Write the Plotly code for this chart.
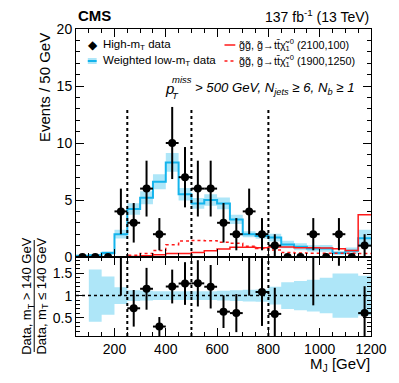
import numpy as np
import plotly.graph_objects as go

# M_J bins, 50 GeV wide from 50 to 1200 GeV
bin_edges = np.arange(50, 1250, 50)
bin_centers = [75, 125, 175, 225, 275, 325, 375, 425, 475, 525, 575, 625,
               675, 725, 775, 825, 875, 925, 975, 1025, 1075, 1125, 1175]

# High-mT data (event counts)
data_high_mt = [0, 0, 0, 4, 3, 6, 2, 10, 7, 6, 6, 3,
                2, 4, 2, 1, 0, 0, 2, 0, 2, 0, 1]

# Weighted low-mT prediction
pred_low_mt = [0.1, 0.15, 0.35, 2.0, 4.2, 5.2, 6.6, 8.3, 5.5, 4.7, 5.0, 4.7,
               3.3, 2.0, 1.85, 1.7, 1.1, 0.9, 0.75, 0.75, 0.35, 0.55, 1.65]
# relative uncertainty of the prediction (band)
pred_rel_unc = [0.6, 0.59, 0.43, 0.19, 0.12, 0.11, 0.1, 0.1, 0.1, 0.1, 0.1, 0.11,
                0.12, 0.13, 0.14, 0.2, 0.3, 0.33, 0.36, 0.4, 0.5, 0.5, 0.45]

# signal models
sig_2100_100 = [0.0, 0.0, 0.0, 0.02, 0.05, 0.1, 0.2, 0.3, 0.3, 0.4, 0.55, 0.7,
                0.85, 0.85, 0.82, 0.88, 0.88, 0.82, 0.82, 0.8, 0.73, 0.58, 3.7]
sig_1900_1250 = [0.0, 0.0, 0.0, 0.02, 0.15, 0.3, 0.58, 1.08, 1.4, 1.45, 1.42, 1.3,
                 1.2, 0.95, 0.75, 0.62, 0.39, 0.35, 0.33, 0.33, 0.32, 0.32, 0.3]

boundaries = [250, 500, 800]

FONT = "Liberation Sans"
BLUE = "#14b4ec"
BAND = "#aee6f8"
RED = "#ff1a1a"

# the page puts the figure 8px in from the top-left corner,
# plot area on screen: x 76..376, y 29..336
def px(xp):
    return (xp - 76) / 300.0


def py(yp):
    return (336 - yp) / 307.0


TOP_DOM = [py(257), 1]
BOT_DOM = [0, py(257)]

data = np.array(data_high_mt, dtype=float)
pred = np.array(pred_low_mt)
rel = np.array(pred_rel_unc)
data_err = np.sqrt(data)
ratio = np.where(data > 0, data / pred, np.nan)
ratio_err = np.where(data > 0, data_err / pred, np.nan)


def step(vals):
    v = list(vals)
    return list(bin_edges), v + [v[-1]]


fig = go.Figure()

# prediction band (top)
xs, lo = step(pred * (1 - rel))
_, hi = step(pred * (1 + rel))
fig.add_trace(go.Scatter(x=xs, y=lo, mode="lines", line=dict(width=0, shape="hv"),
                         hoverinfo="skip", xaxis="x", yaxis="y"))
fig.add_trace(go.Scatter(x=xs, y=hi, mode="lines", line=dict(width=0, shape="hv"),
                         fill="tonexty", fillcolor=BAND, hoverinfo="skip",
                         xaxis="x", yaxis="y"))
xs, yp = step(pred)
fig.add_trace(go.Scatter(x=xs, y=yp, mode="lines", line=dict(color=BLUE, width=2, shape="hv"),
                         xaxis="x", yaxis="y"))

# signals
xs, ys = step(sig_2100_100)
fig.add_trace(go.Scatter(x=xs, y=ys, mode="lines", line=dict(color=RED, width=1.5, shape="hv"),
                         xaxis="x", yaxis="y"))
xs, ys = step(sig_1900_1250)
fig.add_trace(go.Scatter(x=xs, y=ys, mode="lines",
                         line=dict(color=RED, width=1.5, shape="hv", dash="dot"),
                         xaxis="x", yaxis="y"))

# data
fig.add_trace(go.Scatter(
    x=bin_centers, y=data, mode="markers",
    marker=dict(color="black", size=8, symbol="circle"),
    error_y=dict(type="data", array=data_err, color="black", thickness=2, width=0),
    error_x=dict(type="data", array=[25] * len(bin_centers), color="black", thickness=2, width=0),
    xaxis="x", yaxis="y"))

# ratio band
xs, lo = step(1 - rel)
_, hi = step(1 + rel)
fig.add_trace(go.Scatter(x=xs[1:], y=lo[1:], mode="lines", line=dict(width=0, shape="hv"),
                         hoverinfo="skip", xaxis="x2", yaxis="y2"))
fig.add_trace(go.Scatter(x=xs[1:], y=hi[1:], mode="lines", line=dict(width=0, shape="hv"),
                         fill="tonexty", fillcolor=BAND, hoverinfo="skip",
                         xaxis="x2", yaxis="y2"))

# ratio points
fig.add_trace(go.Scatter(
    x=bin_centers, y=ratio, mode="markers",
    marker=dict(color="black", size=8, symbol="circle"),
    error_y=dict(type="data", array=ratio_err, color="black", thickness=2, width=0),
    error_x=dict(type="data", array=[25] * len(bin_centers), color="black", thickness=2, width=0),
    xaxis="x2", yaxis="y2"))

shapes = []
for b in boundaries:
    shapes.append(dict(type="line", xref="x", yref="y", x0=b, x1=b, y0=0, y1=13.1,
                       line=dict(color="black", width=2, dash="dot")))
    shapes.append(dict(type="line", xref="x2", yref="y2", x0=b, x1=b, y0=0.09, y1=1.87,
                       line=dict(color="black", width=2, dash="dot")))
shapes.append(dict(type="line", xref="x2", yref="y2", x0=50, x1=1200, y0=1, y1=1,
                   line=dict(color="black", width=1.5, dash="dot")))
# legend symbols
shapes.append(dict(type="rect", xref="paper", yref="paper", x0=px(88), x1=px(97),
                   y0=py(64), y1=py(58), fillcolor=BAND, line=dict(width=0)))
shapes.append(dict(type="line", xref="paper", yref="paper", x0=px(88), x1=px(97),
                   y0=py(61), y1=py(61), line=dict(color=BLUE, width=2)))
shapes.append(dict(type="line", xref="paper", yref="paper", x0=px(227), x1=px(238),
                   y0=py(45), y1=py(45), line=dict(color=RED, width=1.5)))
shapes.append(dict(type="line", xref="paper", yref="paper", x0=px(227), x1=px(238),
                   y0=py(61), y1=py(61), line=dict(color=RED, width=1.5, dash="dot")))
# fraction bar of the ratio title
shapes.append(dict(type="line", xref="paper", yref="paper", x0=px(33.5), x1=px(33.5),
                   y0=py(352), y1=py(240), line=dict(color="black", width=1)))


def ann(text, x, y, size, xanchor="left", yanchor="middle", angle=0, **kw):
    return dict(text=text, x=px(x), y=py(y), xref="paper", yref="paper",
                xanchor=xanchor, yanchor=yanchor, showarrow=False, textangle=angle,
                font=dict(family=FONT, size=size, color="black"), **kw)


gsig = "g\u0303g\u0303, g\u0303\u2192tt\u0304\u03c7\u0303<sub>1</sub><sup>0</sup>"
annotations = [
    ann("<b>CMS</b>", 76, 16, 15),
    ann("137 fb<sup>-1</sup> (13 TeV)", 376, 16, 14, xanchor="right"),
    ann("\u25c6", 93, 45, 12, xanchor="center"),
    ann("High-m<sub>T</sub> data", 101, 45, 11.5),
    ann("Weighted low-m<sub>T</sub> data", 101, 61, 11.5),
    ann(gsig + " (2100,100)", 240, 45, 10.8),
    ann(gsig + " (1900,1250)", 240, 61, 10.8),
    ann("<i>p</i>", 164, 88, 15),
    ann("<i>miss</i>", 172, 80, 9.5),
    ann("<i>T</i>", 172, 95, 9.5),
    ann("<i>> 500 GeV, N<sub>jets</sub> \u2265 6, N<sub>b</sub> \u2265 1</i>", 195, 88, 13.2),
    ann("M<sub>J</sub> [GeV]", 377, 353, 15, xanchor="right", yanchor="top"),
    ann("Events / 50 GeV", 44, 31, 15, xanchor="center", yanchor="top", angle=-90),
    ann("Data, m<sub>T</sub> > 140 GeV", 26, 296, 13, xanchor="center", angle=-90),
    ann("Data, m<sub>T</sub> \u2264 140 GeV", 41, 296, 13, xanchor="center", angle=-90),
]

axis_common = dict(showline=True, linecolor="black", linewidth=1, mirror="ticks",
                   ticks="inside", tickcolor="black", showgrid=False, zeroline=False,
                   tickfont=dict(family=FONT, size=14, color="black"))

fig.update_layout(
    width=391, height=375,
    margin=dict(l=68, r=23, t=21, b=47),
    paper_bgcolor="white", plot_bgcolor="white",
    showlegend=False,
    xaxis=dict(domain=[0, 1], anchor="y", range=[50, 1200], showticklabels=False,
               tickvals=[200, 400, 600, 800, 1000, 1200], ticklen=8,
               minor=dict(dtick=50, tick0=50, ticklen=4, ticks="inside", tickcolor="black"),
               **axis_common),
    yaxis=dict(domain=TOP_DOM, anchor="x", range=[0, 20], tickvals=[0, 5, 10, 15, 20],
               ticklen=8, minor=dict(dtick=1, ticklen=4, ticks="inside", tickcolor="black"),
               **axis_common),
    xaxis2=dict(domain=[0, 1], anchor="y2", range=[50, 1200],
                tickvals=[200, 400, 600, 800, 1000, 1200], ticklen=8,
                minor=dict(dtick=50, tick0=50, ticklen=4, ticks="inside", tickcolor="black"),
                **axis_common),
    yaxis2=dict(domain=BOT_DOM, anchor="x2", range=[0.09, 1.87],
                tickvals=[0.5, 1, 1.5], ticktext=["0.5", "1", "1.5"], ticklen=8,
                minor=dict(dtick=0.1, ticklen=4, ticks="inside", tickcolor="black"),
                **axis_common),
    shapes=shapes,
    annotations=annotations,
)

fig.write_html("out.html")
